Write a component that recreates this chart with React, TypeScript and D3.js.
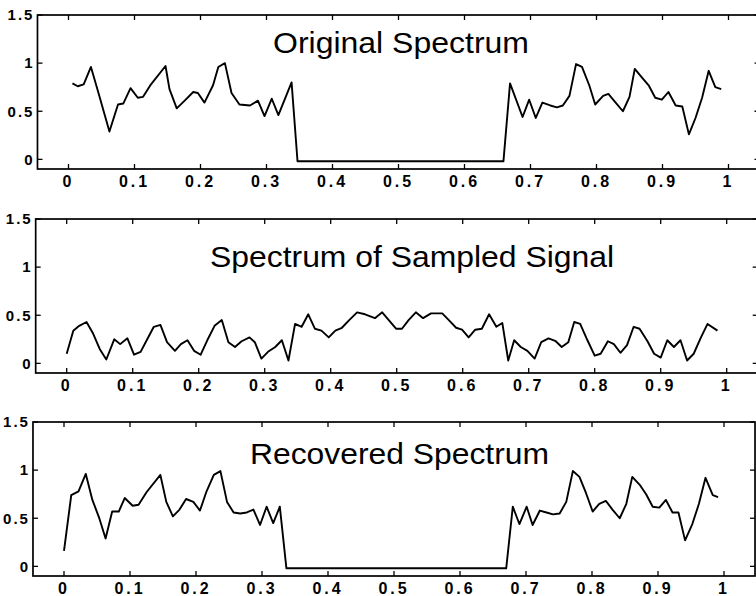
import React from 'react';
import * as d3 from 'd3';

// tick values and labels shared by the three panels
const xTicks = [0, 0.1, 0.2, 0.3, 0.4, 0.5, 0.6, 0.7, 0.8, 0.9, 1];
const xTickLabels = ['0', '0.1', '0.2', '0.3', '0.4', '0.5', '0.6', '0.7', '0.8', '0.9', '1'];
const yTicks = [0, 0.5, 1, 1.5];
const yTickLabels = ['0', '0.5', '1', '1.5'];
const titles = ['Original Spectrum', 'Spectrum of Sampled Signal', 'Recovered Spectrum'];

// [frequency, magnitude]
const originalSpectrum: [number, number][] = [
  [0.006, 0.79], [0.014, 0.76], [0.023, 0.78], [0.034, 0.96], [0.045, 0.7], [0.062, 0.29],
  [0.075, 0.57], [0.083, 0.58], [0.094, 0.74], [0.105, 0.64], [0.113, 0.65], [0.125, 0.78],
  [0.147, 0.97], [0.153, 0.73], [0.164, 0.53], [0.176, 0.61], [0.189, 0.7], [0.196, 0.69],
  [0.206, 0.59], [0.219, 0.77], [0.227, 0.96], [0.237, 1.0], [0.247, 0.69], [0.259, 0.57],
  [0.275, 0.56], [0.287, 0.61], [0.297, 0.45], [0.308, 0.63], [0.318, 0.46], [0.338, 0.8],
  [0.347, -0.02], [0.659, -0.02], [0.669, 0.79], [0.688, 0.44], [0.698, 0.62], [0.708, 0.43],
  [0.718, 0.59], [0.73, 0.56], [0.74, 0.54], [0.749, 0.56], [0.759, 0.66], [0.769, 0.99],
  [0.778, 0.96], [0.789, 0.77], [0.798, 0.57], [0.81, 0.66], [0.818, 0.68], [0.829, 0.59],
  [0.84, 0.5], [0.85, 0.65], [0.858, 0.94], [0.869, 0.85], [0.879, 0.77], [0.889, 0.64],
  [0.899, 0.62], [0.909, 0.7], [0.92, 0.56], [0.93, 0.55], [0.94, 0.26], [0.95, 0.43],
  [0.96, 0.64], [0.97, 0.92], [0.98, 0.75], [0.989, 0.73],
];

const sampledSpectrum: [number, number][] = [
  [0.0, 0.1], [0.01, 0.34], [0.019, 0.39], [0.03, 0.43], [0.04, 0.31], [0.05, 0.15], [0.06, 0.04],
  [0.072, 0.25], [0.081, 0.2], [0.092, 0.26], [0.102, 0.09], [0.112, 0.12], [0.122, 0.25],
  [0.132, 0.38], [0.142, 0.4], [0.152, 0.22], [0.164, 0.13], [0.173, 0.2], [0.183, 0.24],
  [0.193, 0.13], [0.203, 0.09], [0.213, 0.24], [0.224, 0.39], [0.235, 0.45], [0.245, 0.22],
  [0.255, 0.17], [0.265, 0.23], [0.277, 0.27], [0.285, 0.22], [0.295, 0.05], [0.305, 0.12],
  [0.316, 0.17], [0.326, 0.24], [0.336, 0.03], [0.346, 0.41], [0.356, 0.38], [0.366, 0.51],
  [0.376, 0.36], [0.386, 0.34], [0.397, 0.27], [0.407, 0.34], [0.417, 0.37], [0.428, 0.45],
  [0.44, 0.53], [0.452, 0.51], [0.467, 0.47], [0.478, 0.53], [0.488, 0.45], [0.499, 0.36],
  [0.508, 0.36], [0.518, 0.45], [0.529, 0.53], [0.54, 0.47], [0.552, 0.52], [0.569, 0.52],
  [0.579, 0.45], [0.59, 0.37], [0.599, 0.35], [0.609, 0.27], [0.619, 0.35], [0.629, 0.36],
  [0.64, 0.51], [0.651, 0.38], [0.66, 0.42], [0.669, 0.03], [0.678, 0.24], [0.688, 0.17],
  [0.698, 0.13], [0.709, 0.05], [0.719, 0.22], [0.73, 0.26], [0.741, 0.23], [0.75, 0.17],
  [0.76, 0.22], [0.769, 0.43], [0.778, 0.41], [0.789, 0.24], [0.8, 0.08], [0.809, 0.1],
  [0.82, 0.23], [0.829, 0.2], [0.839, 0.11], [0.849, 0.19], [0.859, 0.38], [0.868, 0.36],
  [0.88, 0.23], [0.89, 0.1], [0.9, 0.06], [0.91, 0.24], [0.92, 0.17], [0.93, 0.24],
  [0.94, 0.03], [0.95, 0.1], [0.961, 0.27], [0.971, 0.41], [0.986, 0.34],
];

const recoveredSpectrum: [number, number][] = [
  [0.0, 0.16], [0.011, 0.74], [0.022, 0.78], [0.033, 0.96], [0.043, 0.69], [0.053, 0.51],
  [0.063, 0.29], [0.073, 0.57], [0.083, 0.57], [0.092, 0.71], [0.104, 0.63], [0.113, 0.64],
  [0.125, 0.77], [0.146, 0.95], [0.155, 0.67], [0.165, 0.52], [0.175, 0.59], [0.185, 0.7],
  [0.196, 0.67], [0.206, 0.58], [0.216, 0.78], [0.227, 0.95], [0.237, 0.99], [0.247, 0.67],
  [0.257, 0.56], [0.267, 0.55], [0.277, 0.56], [0.287, 0.59], [0.297, 0.43], [0.307, 0.62],
  [0.317, 0.45], [0.327, 0.62], [0.337, -0.02], [0.67, -0.02], [0.68, 0.62], [0.69, 0.44],
  [0.701, 0.62], [0.71, 0.43], [0.721, 0.58], [0.731, 0.56], [0.741, 0.54], [0.751, 0.55],
  [0.761, 0.67], [0.771, 0.99], [0.781, 0.93], [0.791, 0.76], [0.801, 0.57], [0.811, 0.65],
  [0.821, 0.68], [0.831, 0.59], [0.842, 0.5], [0.852, 0.65], [0.861, 0.93], [0.872, 0.85],
  [0.882, 0.75], [0.892, 0.62], [0.902, 0.61], [0.912, 0.69], [0.922, 0.56], [0.931, 0.56],
  [0.941, 0.27], [0.952, 0.44], [0.962, 0.65], [0.972, 0.92], [0.983, 0.74], [0.991, 0.72],
];

const W = 756;
const H = 596;
const PX_PER_UNIT = 660;
const PANEL_H = 154;
const FONT = '"Liberation Sans", Arial, sans-serif';

// layout of each subplot (the scan is slightly skewed, hence the differing offsets)
const panels = [
  { title: titles[0], data: originalSpectrum, top: 15, zeroX: 68.5, titleX: 401, titleY: 53, titleLen: 256 },
  { title: titles[1], data: sampledSpectrum, top: 219, zeroX: 66.7, titleX: 412, titleY: 267, titleLen: 404 },
  { title: titles[2], data: recoveredSpectrum, top: 422, zeroX: 64, titleX: 399.5, titleY: 464, titleLen: 299 },
];

type PanelDef = typeof panels[number];

function Panel({ p }: { p: PanelDef }) {
  const x = d3.scaleLinear()
    .domain([-0.047, 1.047])
    .range([p.zeroX - 0.047 * PX_PER_UNIT, p.zeroX + 1.047 * PX_PER_UNIT]);
  const y = d3.scaleLinear().domain([-0.1, 1.5]).range([p.top + PANEL_H, p.top]);
  const line = d3.line<[number, number]>().x(d => x(d[0])).y(d => y(d[1]));
  const [x0, x1] = x.range();
  const [yb, yt] = y.range();
  const tl = 5;

  return (
    <g>
      <rect x={x0} y={yt} width={x1 - x0} height={yb - yt} fill="none" stroke="#000" strokeWidth={1.7} />
      {xTicks.map((t, i) => (
        <g key={'x' + i}>
          <line x1={x(t)} x2={x(t)} y1={yb} y2={yb - tl} stroke="#000" strokeWidth={1.3} />
          <line x1={x(t)} x2={x(t)} y1={yt} y2={yt + tl} stroke="#000" strokeWidth={1.3} />
          <text x={x(t)} y={yb + 18} textAnchor="middle" fontFamily={FONT} fontWeight="bold"
            fontSize={16} letterSpacing={3}>{xTickLabels[i]}</text>
        </g>
      ))}
      {yTicks.map((t, i) => (
        <g key={'y' + i}>
          <line x1={x0} x2={x0 + tl} y1={y(t)} y2={y(t)} stroke="#000" strokeWidth={1.3} />
          <line x1={x1} x2={x1 - tl} y1={y(t)} y2={y(t)} stroke="#000" strokeWidth={1.3} />
          <text x={x0 - 3} y={y(t)} dy="0.35em" textAnchor="end" fontFamily={FONT} fontWeight="bold"
            fontSize={15} letterSpacing={2}>{yTickLabels[i]}</text>
        </g>
      ))}
      <path d={line(p.data) || ''} fill="none" stroke="#000" strokeWidth={1.9} strokeLinejoin="round" />
      <text x={p.titleX} y={p.titleY} textAnchor="middle" fontFamily={FONT} fontSize={29}
        textLength={p.titleLen} lengthAdjust="spacingAndGlyphs">{p.title}</text>
    </g>
  );
}

export default function App() {
  return (
    <svg width={W} height={H} style={{ position: 'absolute', left: 0, top: 0, background: '#fff' }}>
      {panels.map(p => <Panel key={p.title} p={p} />)}
    </svg>
  );
}
